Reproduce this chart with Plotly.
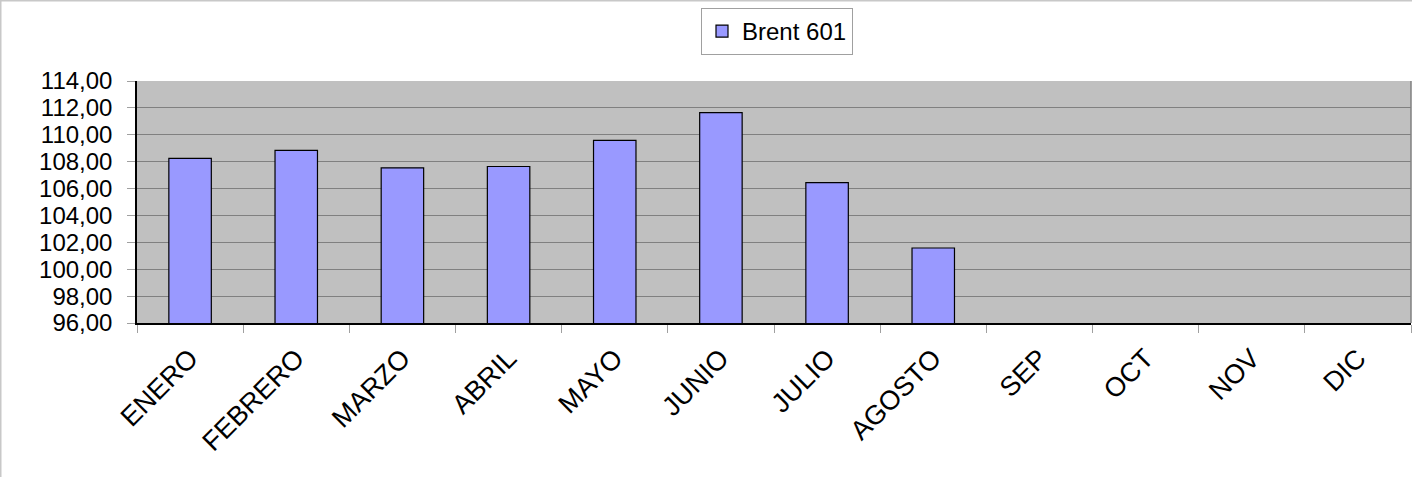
import plotly.graph_objects as go

months = ["ENERO", "FEBRERO", "MARZO", "ABRIL", "MAYO", "JUNIO", "JULIO",
          "AGOSTO", "SEP", "OCT", "NOV", "DIC"]
brent_601 = [108.24, 108.84, 107.54, 107.64, 109.58, 111.65, 106.44, 101.58,
             None, None, None, None]
y_ticks = [96, 98, 100, 102, 104, 106, 108, 110, 112, 114]
y_tick_text = ["96,00", "98,00", "100,00", "102,00", "104,00", "106,00",
               "108,00", "110,00", "112,00", "114,00"]

W, H = 1412, 477
L, R, T, B = 137, 1, 81, 154
pw, ph = W - L - R, H - T - B


def px_x(x):
    return (x - L) / pw


def px_y(y):
    return (H - B - y) / ph


fig = go.Figure()
fig.add_trace(go.Bar(
    x=months, y=brent_601, name="Brent 601",
    marker=dict(color="#9999FF", line=dict(color="#000000", width=1.2)),
    width=0.4,
))

font = "Liberation Sans, Arial, sans-serif"
border = dict(color="#C8C8C8", width=1.5)
fig.update_layout(
    width=W, height=H,
    margin=dict(l=L, r=R, t=T, b=B, autoexpand=False),
    paper_bgcolor="#FFFFFF",
    plot_bgcolor="#C0C0C0",
    showlegend=True,
    legend=dict(
        x=px_x(777), xanchor="center",
        y=px_y(8), yanchor="top",
        bgcolor="#FFFFFF", bordercolor="#A0A0A0", borderwidth=1,
        font=dict(family=font, size=24, color="#000000"),
        itemwidth=30,
    ),
    xaxis=dict(
        type="category", categoryorder="array", categoryarray=months,
        range=[-0.5, 11.5],
        tickangle=-45, tickfont=dict(family=font, size=27, color="#000000"),
        ticklabelstandoff=7,
        showline=True, linecolor="#000000", linewidth=1.5,
        ticks="outside", tickson="boundaries", ticklen=8, tickcolor="#A0A0A0",
        showgrid=False, zeroline=False,
    ),
    yaxis=dict(
        range=[96, 114],
        tickvals=y_ticks, ticktext=y_tick_text,
        tickfont=dict(family=font, size=24, color="#000000"),
        ticklabelstandoff=10,
        showline=True, linecolor="#000000", linewidth=1.5,
        ticks="outside", ticklen=8, tickcolor="#A0A0A0",
        showgrid=True, gridcolor="#808080", gridwidth=1,
        zeroline=False,
    ),
    shapes=[
        dict(type="line", xref="paper", yref="paper",
             x0=px_x(0.75), x1=px_x(0.75), y0=px_y(0), y1=px_y(H),
             line=border, layer="below"),
        dict(type="line", xref="paper", yref="paper",
             x0=px_x(0), x1=px_x(W), y0=px_y(0.75), y1=px_y(0.75),
             line=border, layer="below"),
        dict(type="line", xref="paper", yref="paper",
             x0=1, x1=1, y0=0, y1=1,
             line=dict(color="#808080", width=1.5), layer="above"),
    ],
)

fig.write_html("out.html",
               config={"displayModeBar": False},
               post_script="document.body.style.margin='0px';"
                           "document.body.style.padding='0px';")
